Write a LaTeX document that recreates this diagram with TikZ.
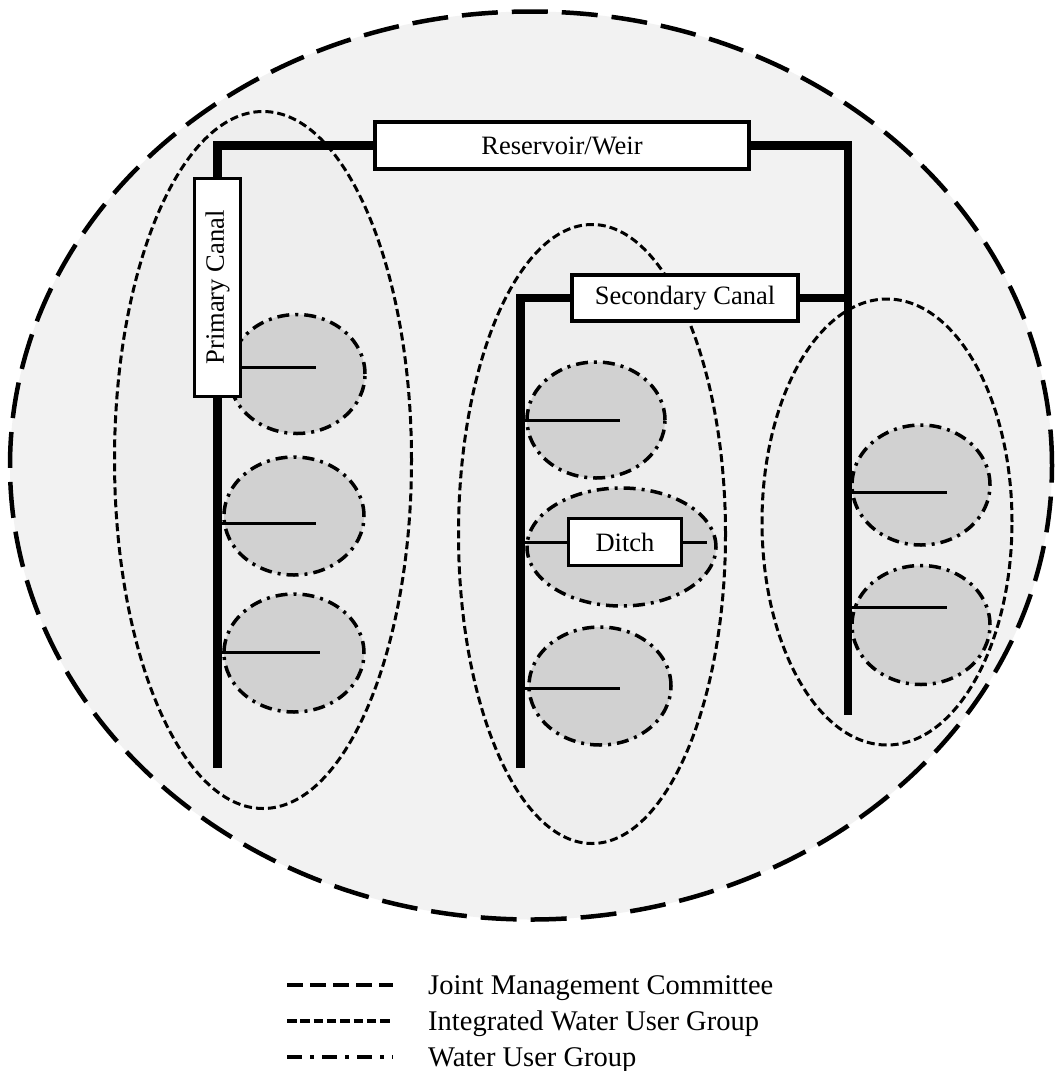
\documentclass[tikz,border=0pt]{standalone}
\usepackage{fontspec}
\setmainfont{Liberation Serif}
\usetikzlibrary{shapes.geometric}
\begin{document}
\begin{tikzpicture}[x=1pt,y=-1pt,
  jmc/.style={draw, line width=4.5pt, dash pattern=on 36pt off 14pt},
  iwug/.style={draw, line width=3pt, dash pattern=on 8pt off 4pt},
  wug/.style={draw, line width=3.5pt, dash pattern=on 12pt off 6pt on 3pt off 6pt, fill=black!18},
  canal/.style={line width=8.5pt},
  branch/.style={line width=3pt},
  box/.style={draw, fill=white, line width=3.5pt, inner sep=0pt, font=\fontsize{26.5}{31}\selectfont},
  ell/.style={ellipse, inner sep=0pt},
  legtext/.style={anchor=base west, inner sep=0pt, font=\fontsize{28.5}{34}\selectfont},
  legjmc/.style={line width=4pt, dash pattern=on 16pt off 7pt},
  legiwug/.style={line width=3.5pt, dash pattern=on 9.5pt off 3.8pt},
  legwug/.style={line width=3.5pt, dash pattern=on 15pt off 8pt on 4pt off 8pt},
]
\fill[white] (0,0) rectangle (1057,1071);
\useasboundingbox (0,0) rectangle (1057,1071);

% Joint Management Committee
\node[ell, jmc, fill=black!5, minimum width=1042pt, minimum height=908pt] (jmcE) at (531,465.5) {};

% Integrated Water User Groups
\node[ell, iwug, fill=black!6.5, minimum width=297pt, minimum height=697pt] (iwL) at (263,460) {};
\node[ell, iwug, fill=black!6.5, minimum width=267pt, minimum height=619pt] (iwM) at (592,534) {};
\node[ell, iwug, fill=black!6.5, minimum width=250pt, minimum height=446pt] (iwR) at (887,522) {};

% Water User Groups
\node[ell, wug, minimum width=136pt, minimum height=119pt] (wL1) at (297,374) {};
\node[ell, wug, minimum width=140pt, minimum height=118pt] (wL2) at (294,516) {};
\node[ell, wug, minimum width=140pt, minimum height=118pt] (wL3) at (294,653) {};
\node[ell, wug, minimum width=138pt, minimum height=116pt] (wM1) at (596,420) {};
\node[ell, wug, minimum width=189pt, minimum height=118pt] (wM2) at (621.5,547) {};
\node[ell, wug, minimum width=142pt, minimum height=118pt] (wM3) at (600,686) {};
\node[ell, wug, minimum width=138pt, minimum height=120pt] (wR1) at (921,485) {};
\node[ell, wug, minimum width=138pt, minimum height=119pt] (wR2) at (921,625) {};

% Boxes
\node[box, minimum width=374pt, minimum height=47pt] (res) at (562,145.5) {Reservoir/Weir};
\node[box, minimum width=46pt, minimum height=218pt] (pc) at (217.5,287.5) {\rotatebox{90}{Primary Canal}};
\node[box, minimum width=226pt, minimum height=46pt] (sc) at (685,298) {Secondary Canal};

% canal end points
\coordinate (lend) at (217.5,768);
\coordinate (mend) at (520.5,768);
\coordinate (rend) at (848,715);

% Canals
\draw[canal] (res.west) -| (pc.north);
\draw[canal] (res.east) -| (rend);
\draw[canal] (pc.south) -- (lend);
\draw[canal] (sc.west) -| (mend);
\draw[canal] (sc.east) -- (sc.east -| rend);

% Branch ends
\coordinate (b1) at (316,367);
\coordinate (b2) at (316,523);
\coordinate (b3) at (320,652);
\coordinate (m1) at (620,420);
\coordinate (m3) at (620,688);
\coordinate (r1) at (947,492);
\coordinate (r2) at (947,607);
\coordinate (dend) at (707,542);

\draw[branch] (pc.east |- b1) -- (b1);
\draw[branch] (lend |- b2) -- (b2);
\draw[branch] (lend |- b3) -- (b3);
\draw[branch] (mend |- m1) -- (m1);
\draw[branch] (mend |- m3) -- (m3);
\draw[branch] (rend |- r1) -- (r1);
\draw[branch] (rend |- r2) -- (r2);

\node[box, minimum width=113pt, minimum height=47pt] (ditch) at (625,542) {Ditch};
\draw[branch] (ditch.west) -- (ditch.west -| mend);
\draw[branch] (ditch.east) -- (dend);

% Legend
\coordinate (l1a) at (287,985);  \coordinate (l1b) at (393,985);
\coordinate (l2a) at (287,1021); \coordinate (l2b) at (393,1021);
\coordinate (l3a) at (287,1057); \coordinate (l3b) at (393,1057);
\draw[legjmc] (l1a) -- (l1b);
\draw[legiwug] (l2a) -- (l2b);
\draw[legwug] (l3a) -- (l3b);
\node[legtext] (t1) at (428,994) {Joint Management Committee};
\node[legtext] (t2) at (428,1030) {Integrated Water User Group};
\node[legtext] (t3) at (428,1066) {Water User Group};
\end{tikzpicture}
\end{document}
